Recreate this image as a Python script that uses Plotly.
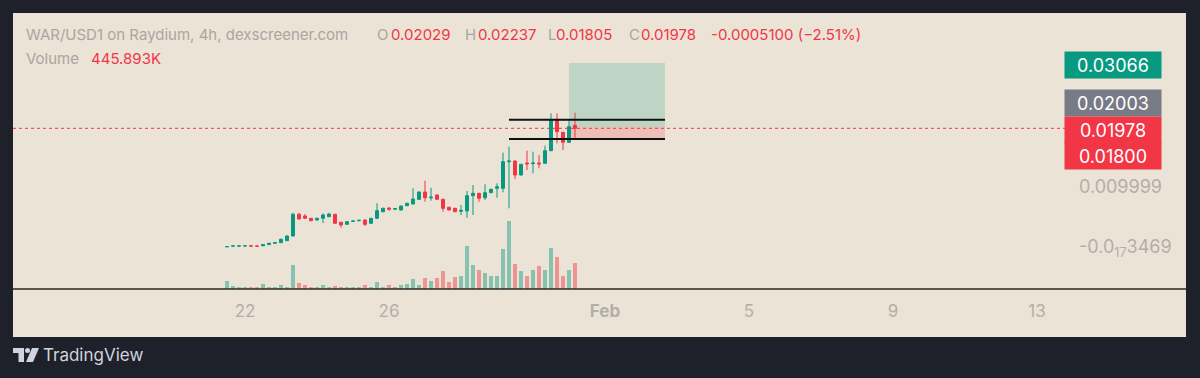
import pandas as pd
import plotly.graph_objects as go

# ---------------- data ----------------
start_time = "2026-01-21 12:00"
n_candles = 59
times = pd.date_range(start_time, periods=n_candles, freq="4h")

open_ = [0.00004, 0.00015, 0.00017, 0.00018, 0.00019, 0.00017, 0.00020, 0.00040, 0.00062, 0.00072,
         0.00105, 0.00183, 0.00545, 0.00517, 0.00478, 0.00450, 0.00478, 0.00505, 0.00545, 0.00412,
         0.00378, 0.00425, 0.00438, 0.00450, 0.00395, 0.00478, 0.00588, 0.00650, 0.00630, 0.00617,
         0.00688, 0.00717, 0.00795, 0.00917, 0.00820, 0.00867, 0.00795, 0.00662, 0.00645, 0.00595,
         0.00600, 0.00855, 0.00895, 0.00822, 0.00905, 0.00978, 0.00978, 0.01422, 0.01433, 0.01200,
         0.01400, 0.01390, 0.01400, 0.01395, 0.01605, 0.02117, 0.01912, 0.01745, 0.02029]
high_ = [0.00008, 0.00020, 0.00020, 0.00021, 0.00021, 0.00019, 0.00045, 0.00068, 0.00080, 0.00140,
         0.00195, 0.00572, 0.00572, 0.00550, 0.00485, 0.00490, 0.00560, 0.00567, 0.00552, 0.00418,
         0.00430, 0.00440, 0.00452, 0.00458, 0.00485, 0.00728, 0.00655, 0.00660, 0.00648, 0.00690,
         0.00735, 0.00978, 0.00925, 0.01105, 0.00988, 0.00875, 0.00802, 0.00670, 0.00652, 0.00700,
         0.00933, 0.01033, 0.00903, 0.01045, 0.00970, 0.01062, 0.01572, 0.01672, 0.01440, 0.01385,
         0.01605, 0.01588, 0.01533, 0.01688, 0.02228, 0.02228, 0.01920, 0.02117, 0.02237]
low_ = [0.00002, 0.00013, 0.00015, 0.00016, 0.00015, 0.00013, 0.00018, 0.00038, 0.00058, 0.00068,
        0.00100, 0.00180, 0.00460, 0.00470, 0.00430, 0.00440, 0.00400, 0.00498, 0.00390, 0.00322,
        0.00372, 0.00418, 0.00430, 0.00350, 0.00388, 0.00470, 0.00580, 0.00605, 0.00622, 0.00610,
        0.00680, 0.00710, 0.00788, 0.00755, 0.00772, 0.00788, 0.00588, 0.00610, 0.00580, 0.00533,
        0.00488, 0.00533, 0.00755, 0.00783, 0.00898, 0.00822, 0.00912, 0.00645, 0.01133, 0.01192,
        0.01283, 0.01228, 0.01312, 0.01388, 0.01598, 0.01728, 0.01617, 0.01738, 0.01805]
close_ = [0.00006, 0.00018, 0.00018, 0.00019, 0.00016, 0.00015, 0.00040, 0.00062, 0.00075, 0.00128,
          0.00183, 0.00545, 0.00467, 0.00478, 0.00438, 0.00478, 0.00533, 0.00550, 0.00395, 0.00367,
          0.00422, 0.00433, 0.00445, 0.00378, 0.00478, 0.00605, 0.00645, 0.00630, 0.00640, 0.00683,
          0.00728, 0.00800, 0.00917, 0.00822, 0.00830, 0.00795, 0.00645, 0.00617, 0.00588, 0.00610,
          0.00855, 0.00895, 0.00812, 0.00905, 0.00962, 0.01005, 0.01422, 0.01433, 0.01200, 0.01378,
          0.01385, 0.01400, 0.01385, 0.01605, 0.02117, 0.01922, 0.01745, 0.02005, 0.01978]
volume = [137e3, 57e3, 34e3, 34e3, 34e3, 34e3, 86e3, 34e3, 34e3, 69e3,
          39e3, 412e3, 98e3, 69e3, 39e3, 39e3, 69e3, 39e3, 57e3, 39e3,
          29e3, 29e3, 39e3, 69e3, 39e3, 115e3, 39e3, 69e3, 39e3, 69e3,
          91e3, 172e3, 69e3, 194e3, 142e3, 184e3, 314e3, 125e3, 214e3, 228e3,
          732e3, 417e3, 321e3, 274e3, 218e3, 218e3, 686e3, 1171e3, 429e3, 304e3,
          228e3, 331e3, 389e3, 321e3, 703e3, 549e3, 218e3, 321e3, 445.893e3]

# position tool / levels
entry_price = 0.02003
target_price = 0.03066
stop_price = 0.01800
last_price = 0.01978
upper_level = 0.0212
lower_level = 0.0180
position_start = "2026-01-31 00:00"
position_end = "2026-02-02 16:00"
levels_start = "2026-01-29 08:00"

x_tick_vals = ["2026-01-22", "2026-01-26", "2026-02-01", "2026-02-05", "2026-02-09", "2026-02-13"]
x_tick_text = ["22", "26", "<b>Feb</b>", "5", "9", "13"]
y_tick_vals = [0.009999, -3.469e-18]
y_tick_text = ["0.009999", "-0.0<sub>17</sub>3469"]

# ---------------- style ----------------
W, H = 1200, 378
BG = "#1e212a"
PANEL = "#ebe3d6"
GREEN = "#089981"
RED = "#f23645"
GREY_TXT = "#aaa69f"
AXIS_TXT = "#b3afa8"
FONT = "Inter, Roboto, Arial, sans-serif"

def px(x):
    return x / W

def py(y):
    return (H - y) / H

x_range = [pd.Timestamp("2026-01-22") - pd.Timedelta(days=(245 - 13) / 36),
           pd.Timestamp("2026-01-22") + pd.Timedelta(days=(1065 - 245) / 36)]

fig = go.Figure()

vol_colors = ["rgba(8,153,129,0.45)" if c >= o else "rgba(242,54,69,0.45)"
              for o, c in zip(open_, close_)]
fig.add_trace(go.Bar(x=times, y=volume, marker_color=vol_colors, marker_line_width=0,
                     width=4 * 3600 * 1000 * 0.72, yaxis="y2", hoverinfo="skip"))

fig.add_trace(go.Candlestick(
    x=times, open=open_, high=high_, low=low_, close=close_,
    increasing=dict(line=dict(color=GREEN, width=1), fillcolor=GREEN),
    decreasing=dict(line=dict(color=RED, width=1), fillcolor=RED),
    whiskerwidth=0, yaxis="y"))

shapes = [
    dict(type="rect", xref="paper", yref="paper", x0=px(13), x1=px(1186), y0=py(337), y1=py(13),
         fillcolor=PANEL, line_width=0, layer="below"),
    dict(type="rect", xref="x", yref="y", x0=position_start, x1=position_end, y0=entry_price,
         y1=target_price, fillcolor="rgba(8,153,129,0.2)", line_width=0, layer="below"),
    dict(type="rect", xref="x", yref="y", x0=position_start, x1=position_end, y0=stop_price,
         y1=entry_price, fillcolor="rgba(242,54,69,0.2)", line_width=0, layer="below"),
    dict(type="line", xref="x", yref="y", x0=levels_start, x1=position_end, y0=upper_level,
         y1=upper_level, line=dict(color="#111111", width=2)),
    dict(type="line", xref="x", yref="y", x0=levels_start, x1=position_end, y0=lower_level,
         y1=lower_level, line=dict(color="#111111", width=2)),
    dict(type="line", xref="paper", yref="y", x0=px(13), x1=px(1065), y0=last_price, y1=last_price,
         line=dict(color=RED, width=1, dash="dot")),
    dict(type="line", xref="paper", yref="paper", x0=px(13), x1=px(1186), y0=py(289), y1=py(289),
         line=dict(color="#2b2824", width=1.5)),
]

def path(pts):
    return "M " + " L ".join(f"{px(a):.5f},{py(b):.5f}" for a, b in pts) + " Z"

shapes.append(dict(type="path", xref="paper", yref="paper",
                   path=path([(13, 348), (24, 348), (24, 362), (18.5, 362), (18.5, 353), (13, 353)]),
                   fillcolor="#d1d4dc", line_width=0))
shapes.append(dict(type="circle", xref="paper", yref="paper", x0=px(25), x1=px(30), y0=py(353),
                   y1=py(348), fillcolor="#d1d4dc", line_width=0))
shapes.append(dict(type="path", xref="paper", yref="paper",
                   path=path([(32, 348), (39, 348), (33, 362), (26, 362)]),
                   fillcolor="#d1d4dc", line_width=0))

annotations = []

def txt(x, y, text, color, size=15, anchor="left"):
    annotations.append(dict(xref="paper", yref="paper", x=px(x), y=py(y), text=text,
                            showarrow=False, xanchor=anchor, yanchor="middle", borderpad=0,
                            font=dict(family=FONT, size=size, color=color)))

txt(25, 35, "WAR/USD1 on Raydium, 4h, dexscreener.com", GREY_TXT)
txt(376, 35, "O", GREY_TXT)
txt(390, 35, f"{open_[-1]:.5f}", RED)
txt(464, 35, "H", GREY_TXT)
txt(477, 35, f"{high_[-1]:.5f}", RED)
txt(547, 35, "L", GREY_TXT)
txt(555, 35, f"{low_[-1]:.5f}", RED)
txt(628, 35, "C", GREY_TXT)
txt(640, 35, f"{close_[-1]:.5f}", RED)
txt(710, 35, "-0.0005100 (−2.51%)", RED)
txt(25, 58, "Volume", GREY_TXT)
txt(90, 58, "445.893K", RED)
txt(42, 355, "TradingView", "#d1d4dc", size=17)

def price_label(yc, text, color):
    annotations.append(dict(xref="paper", yref="paper", x=px(1113), y=py(yc), text=text,
                            showarrow=False, xanchor="center", yanchor="middle",
                            width=96, height=26, borderpad=0, bgcolor=color,
                            font=dict(family=FONT, size=18, color="#ffffff")))

price_label(65, f"{target_price:.5f}", GREEN)
price_label(103, f"{entry_price:.5f}", "#787b86")
price_label(129.5, f"{last_price:.5f}", RED)
price_label(156, f"{stop_price:.5f}", RED)

fig.update_layout(
    width=W, height=H, margin=dict(l=0, r=0, t=0, b=0),
    paper_bgcolor=BG, plot_bgcolor="rgba(0,0,0,0)",
    showlegend=False, bargap=0, shapes=shapes, annotations=annotations,
    xaxis=dict(domain=[px(13), px(1065)], range=x_range, type="date",
               rangeslider=dict(visible=False), showgrid=False, zeroline=False,
               showline=False, ticks="", tickvals=x_tick_vals, ticktext=x_tick_text,
               ticklabelstandoff=10,
               tickfont=dict(family=FONT, size=17, color=AXIS_TXT)),
    yaxis=dict(domain=[py(289), py(13)], range=[-0.007, 0.039], side="right",
               showgrid=False, zeroline=False, showline=False, ticks="",
               tickvals=y_tick_vals, ticktext=y_tick_text, ticklabelstandoff=13,
               tickfont=dict(family=FONT, size=18, color=AXIS_TXT)),
    yaxis2=dict(overlaying="y", range=[0, 276 * 17150], visible=False),
)

fig.write_html("out.html", config={"displayModeBar": False},
               post_script="document.body.style.margin='0';document.body.style.padding='0';")
